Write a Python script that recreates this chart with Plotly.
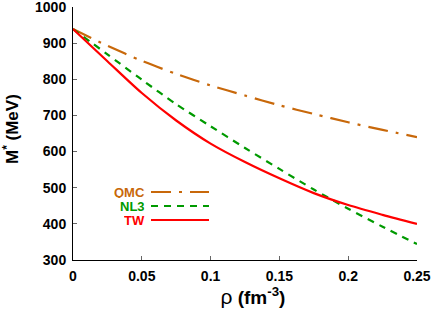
import plotly.graph_objects as go

rho = [0.0, 0.025, 0.05, 0.075, 0.1, 0.125, 0.15, 0.175, 0.2, 0.225, 0.25]
qmc = [939, 893, 851, 815, 783, 755, 728, 704, 681, 660, 640]
nl3 = [939, 869, 799, 731, 670, 610, 552, 495, 442, 392, 344]
tw = [939, 850, 762, 686, 622, 571, 526, 485, 452, 425, 400]

x_ticks = [0, 0.05, 0.1, 0.15, 0.2, 0.25]
x_ticklabels = ["0", "0.05", "0.1", "0.15", "0.2", "0.25"]
y_ticks = [300, 400, 500, 600, 700, 800, 900, 1000]

C_QMC = "#c8680a"
C_NL3 = "#009a00"
C_TW = "#ff0000"

series = [
    ("QMC", qmc, C_QMC, "20px,8px,3px,8px"),
    ("NL3", nl3, C_NL3, "7px,6px"),
    ("TW", tw, C_TW, "solid"),
]

fig = go.Figure()
for name, vals, col, dash in series:
    fig.add_trace(go.Scatter(x=rho, y=vals, mode="lines", name=name,
                             line=dict(color=col, width=2.2, dash=dash, shape="spline", smoothing=0.8),
                             showlegend=False))

W, H = 436, 309
L, R, T, B = 73, 19, 7, 49
pw, ph = W - L - R, H - T - B

def px2paper_x(px):
    return (px - L) / pw

def px2paper_y(py):
    return (H - B - py) / ph

font_family = "Liberation Sans, Arial, sans-serif"
tickfont = dict(family=font_family, size=14, color="black")

fig.update_layout(
    width=W, height=H,
    margin=dict(l=L, r=R, t=T, b=B, autoexpand=False),
    plot_bgcolor="white", paper_bgcolor="white",
    xaxis=dict(range=[0, 0.25], tickvals=x_ticks, ticktext=["<b>%s</b>" % t for t in x_ticklabels],
               ticks="inside", ticklen=4, tickcolor="#666", showline=True, linecolor="black", linewidth=1,
               showgrid=False, zeroline=False, tickfont=tickfont, ticklabelstandoff=3,
               ticklabeloverflow="allow",
               title=dict(text="&nbsp;&nbsp;&nbsp;<span style='font-size:21px'>ρ</span> <b>(fm<sup>-3</sup>)</b>",
                          font=dict(family=font_family, size=19, color="black"),
                          standoff=5)),
    yaxis=dict(range=[300, 1000], tickvals=y_ticks, ticktext=["<b>%d</b>" % v for v in y_ticks],
               ticks="inside", ticklen=4, tickcolor="#666", showline=True, linecolor="black", linewidth=1,
               showgrid=False, zeroline=False, tickfont=tickfont, ticklabelstandoff=3,
               ticklabeloverflow="allow"),
    xaxis2=dict(overlaying="x", matches="x", side="top", range=[0, 0.25], tickvals=x_ticks,
                showticklabels=False, ticks="inside", ticklen=4, tickcolor="#888", showline=True,
                linecolor="#888", linewidth=1, showgrid=False, zeroline=False),
    yaxis2=dict(overlaying="y", matches="y", side="right", range=[300, 1000], tickvals=y_ticks,
                showticklabels=False, ticks="inside", ticklen=4, tickcolor="#888", showline=True,
                linecolor="#888", linewidth=1, showgrid=False, zeroline=False),
)

# y-axis title placed as rotated text in the left margin
fig.add_annotation(x=px2paper_x(11), y=px2paper_y(129), xref="paper", yref="paper",
                   text="<b>M<sup>*</sup> (MeV)</b>", textangle=-90, showarrow=False,
                   xanchor="center", yanchor="middle",
                   font=dict(family=font_family, size=17, color="black"))

rows_y = [192, 206, 220]
text_right = 146
line_x0, line_x1 = 151, 209
for (name, vals, col, dash), py in zip(series, rows_y):
    fig.add_annotation(x=px2paper_x(text_right), y=px2paper_y(py), xref="paper", yref="paper",
                       text="<b>%s</b>" % name, showarrow=False, xanchor="right", yanchor="middle",
                       height=12, borderpad=0,
                       font=dict(family=font_family, size=13, color=col))
    fig.add_shape(type="line", xref="paper", yref="paper",
                  x0=px2paper_x(line_x0), x1=px2paper_x(line_x1),
                  y0=px2paper_y(py), y1=px2paper_y(py),
                  line=dict(color=col, width=2.2, dash=dash))

fig.write_html("out.html", config={"displayModeBar": False},
               post_script="document.body.style.margin='0';document.body.style.padding='0';")
